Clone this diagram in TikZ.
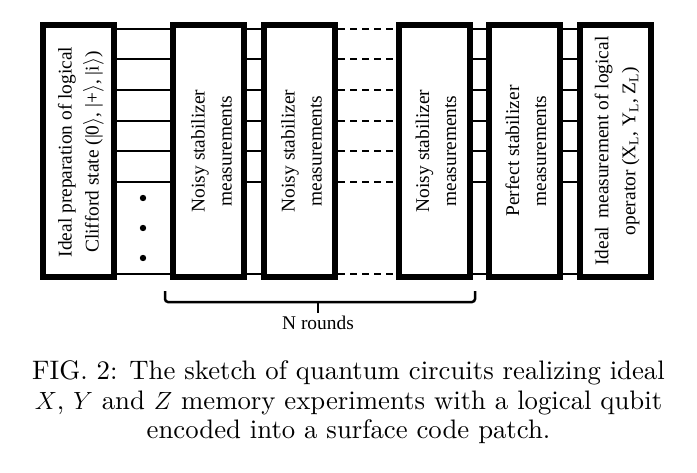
\documentclass[tikz,border=0pt]{standalone}
\usepackage{fontspec}
\newfontfamily\timesf{Liberation Serif}
\newfontfamily\capf{lmroman10-regular.otf}
\usetikzlibrary{calc}
\begin{document}
\begin{tikzpicture}[x=1pt,y=-1pt,
  box/.style={draw, line width=6pt, minimum width=71pt, minimum height=252pt, inner sep=0pt},
  boxtext/.style={rotate=90, align=center, inner sep=0pt, font=\timesf\fontsize{19.4}{27}\selectfont},
  wire/.style={line width=2pt},
  dwire/.style={line width=2pt, dash pattern=on 7pt off 5pt},
  dotnode/.style={circle, fill, inner sep=0pt, minimum size=6.4pt},
  capt/.style={anchor=base, inner sep=0pt, font=\capf\fontsize{26.75}{30}\selectfont}]
\useasboundingbox (0,0) rectangle (697,472);
% boxes
\node[box] (b1) at (78,151) {};
\node[box] (b2) at (208.5,151) {};
\node[box] (b3) at (299.5,151) {};
\node[box] (b4) at (434,151) {};
\node[box] (b5) at (524,151) {};
\node[box] (b6) at (615,151) {};
% texts
\node[boxtext] (t1) at ($(b1)+(3,1)$) {Ideal preparation of logical\\Clifford state (|0$\rangle$, |+$\rangle$, |i$\rangle$)};
\node[boxtext] (t2) at ($(b2)+(3,0)$) {Noisy stabilizer\\measurements};
\node[boxtext] (t3) at ($(b3)+(2,0)$) {Noisy stabilizer\\measurements};
\node[boxtext] (t4) at ($(b4)+(2,0)$) {Noisy stabilizer\\measurements};
\node[boxtext] (t5) at ($(b5)+(2,0)$) {Perfect stabilizer\\measurements};
\node[boxtext] (t6) at ($(b6)+(2,0)$) {Ideal\, measurement of logical\\operator (X\textsubscript{L}, Y\textsubscript{L}, Z\textsubscript{L})};
% wires
\foreach \y in {28.5,59.2,89.9,120.6,151.3,182,273.5} {
  \draw[wire] (b1.east |- 0,\y) -- (b2.west |- 0,\y);
  \draw[wire] (b2.east |- 0,\y) -- (b3.west |- 0,\y);
  \draw[dwire] (b3.east |- 0,\y) -- (b4.west |- 0,\y);
  \draw[wire] (b4.east |- 0,\y) -- (b5.west |- 0,\y);
  \draw[wire] (b5.east |- 0,\y) -- (b6.west |- 0,\y);
}
% dots
\node[dotnode] (d1) at (143,198) {};
\node[dotnode] (d2) at (143,228) {};
\node[dotnode] (d3) at (143,258) {};
% brace
\coordinate (brl) at (165,291);
\coordinate (brr) at (475,291);
\coordinate (brm) at (318,302);
\coordinate (brt) at (318,313);
\draw[line width=2.5pt, rounded corners=3pt] (brl) |- (brm) -| (brr);
\draw[line width=2.5pt] (brm) -- (brt);
\node[anchor=base, inner sep=0pt, font=\timesf\fontsize{19.4}{23}\selectfont] (nr) at (318,329) {N rounds};
% caption
\node[capt] (c1) at (348.5,379) {FIG. 2: The sketch of quantum circuits realizing ideal};
\node[capt] (c2) at (348.5,409) {$X$, $Y$ and $Z$ memory experiments with a logical qubit};
\node[capt] (c3) at (348.5,438) {encoded into a surface code patch.};
\end{tikzpicture}
\end{document}
